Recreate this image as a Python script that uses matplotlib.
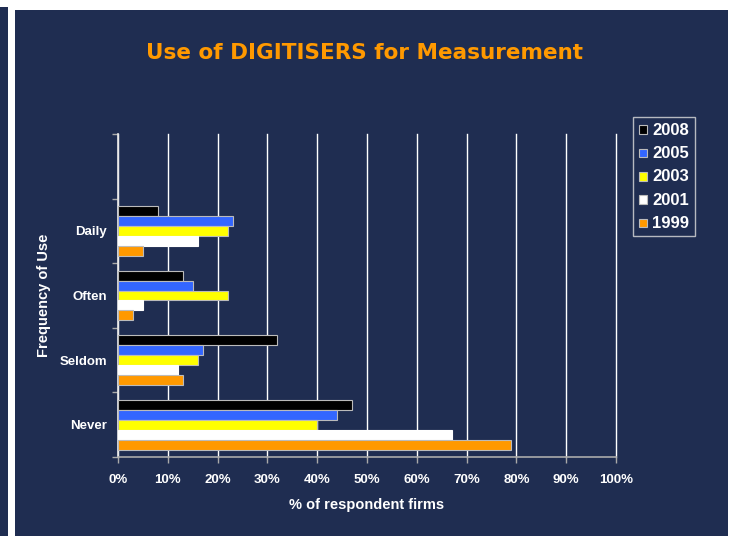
import numpy as np
import matplotlib.pyplot as plt
from matplotlib.patches import Rectangle, Patch

# data
categories = ["Daily", "Often", "Seldom", "Never"]
years = ["2008", "2005", "2003", "2001", "1999"]
v2008 = [8, 13, 32, 47]
v2005 = [23, 15, 17, 44]
v2003 = [22, 22, 16, 40]
v2001 = [16, 5, 12, 67]
v1999 = [5, 3, 13, 79]
xticks = [0, 10, 20, 30, 40, 50, 60, 70, 80, 90, 100]

navy = "#1F2D51"
colors = ["#000000", "#3366FF", "#FFFF00", "#FFFFFF", "#FF9900"]
series = [v2008, v2005, v2003, v2001, v1999]

plt.rcParams["font.family"] = ["Liberation Sans", "DejaVu Sans"]

fig = plt.figure(figsize=(7.32, 5.36), dpi=100, facecolor="white")

# background panels
fig.patches.append(Rectangle((0, 0), 8 / 732, 529 / 536, transform=fig.transFigure,
                             facecolor=navy, edgecolor="none", zorder=-10))
fig.patches.append(Rectangle((15 / 732, 0), 713 / 732, 526 / 536, transform=fig.transFigure,
                             facecolor=navy, edgecolor="none", zorder=-10))

ax = fig.add_axes([118 / 732, 79 / 536, 498 / 732, 323 / 536])
ax.set_facecolor(navy)

y = np.arange(len(categories))
h = 0.154
for i, (vals, col, yr) in enumerate(zip(series, colors, years)):
    ax.barh(y + (i - 2) * h, vals, height=h, color=col,
            edgecolor="#BBBBBB" if col != "#FFFFFF" else "#FFFFFF",
            linewidth=0.8, zorder=3, label=yr)

ax.set_xlim(0, 100)
ax.set_ylim(3.5, -1.5)
ax.set_xticks(xticks)
ax.set_xticklabels([f"{t}%" for t in xticks], color="white", fontweight="bold", fontsize=9.5)
ax.set_yticks(y)
ax.set_yticklabels(categories, color="white", fontweight="bold", fontsize=9.5)
ax.set_yticks(np.arange(-1.5, 3.6, 1), minor=True)
ax.tick_params(axis="y", which="major", length=0, pad=8)
ax.tick_params(axis="y", which="minor", length=4, color="#AAAAAA", width=1)
ax.tick_params(axis="x", length=4, color="#AAAAAA", width=1, pad=8)

ax.grid(axis="x", color="white", linewidth=1, zorder=0)
for gl in ax.get_xgridlines():
    gl.set_clip_on(False)
for s in ["top", "right"]:
    ax.spines[s].set_visible(False)
ax.spines["left"].set_color("#E6E6E6")
ax.spines["left"].set_linewidth(1.2)
ax.spines["bottom"].set_color("#AAAAAA")
ax.spines["bottom"].set_linewidth(1.2)

ax.set_xlabel("% of respondent firms", color="white", fontweight="bold", fontsize=10.5, labelpad=9)
ax.set_ylabel("Frequency of Use", color="white", fontweight="bold", fontsize=10.5, labelpad=6)

fig.text(365 / 732, 1 - 53 / 536, "Use of DIGITISERS for Measurement", color="#FF9900",
         fontsize=15.5, fontweight="bold", ha="center", va="center", family="DejaVu Sans")

handles = [Patch(facecolor=c, edgecolor="#BBBBBB", linewidth=0.8) for c in colors]
leg = fig.legend(handles, years, loc="upper left", bbox_to_anchor=(633 / 732, 1 - 117 / 536),
                 frameon=True, fancybox=False, facecolor=navy, edgecolor="#DDDDDD",
                 handlelength=0.6, handleheight=0.6, handletextpad=0.4, labelspacing=0.6,
                 borderpad=0.4, borderaxespad=0)
leg.get_frame().set_linewidth(1)
for t in leg.get_texts():
    t.set_color("white")
    t.set_fontweight("bold")
    t.set_fontsize(12)

plt.savefig("out.png", dpi=100, facecolor="white")
